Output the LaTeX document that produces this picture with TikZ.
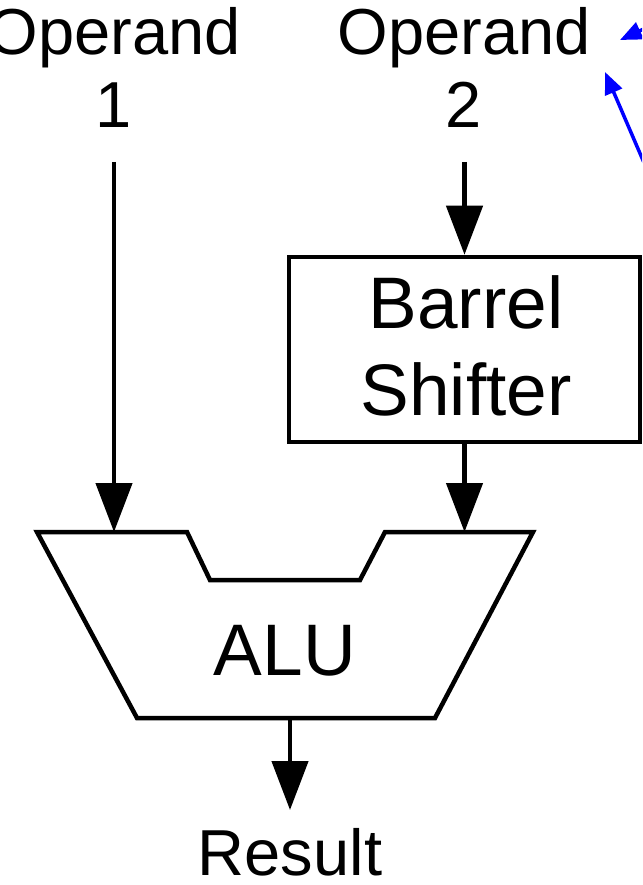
\documentclass[tikz,border=0pt]{standalone}
\usepackage{fontspec}
\setmainfont{Liberation Sans}
\usetikzlibrary{arrows.meta}
\tikzset{
  wire/.style={line width=4.5pt, draw=black},
  bigarrow/.style={wire, -{Triangle[length=49pt,width=36pt]}},
  bluearrow/.style={line width=3.5pt, draw=blue, -{Triangle[length=22pt,width=18pt]}},
  optext/.style={font=\fontsize{65}{73}\selectfont, inner sep=0pt, anchor=base},
  boxtext/.style={font=\fontsize{73}{80}\selectfont, inner sep=0pt, anchor=base},
  blockbox/.style={wire, rectangle, minimum width=351pt, minimum height=185pt, inner sep=0pt}
}
\begin{document}
\begin{tikzpicture}[x=1pt,y=-1pt]
\useasboundingbox (0,0) rectangle (642,885);
\clip (0,0) rectangle (642,885);
\fill[white] (0,0) rectangle (642,885);
% operand labels
\node[optext] (op1a) at (114,55) {Operand};
\node[optext] (op1b) at (114,128) {1};
\node[optext] (op2a) at (464,55) {Operand};
\node[optext] (op2b) at (464,128) {2};
% barrel shifter
\node[blockbox] (bs) at (464.5,349.5) {};
\node[boxtext] (bst1) at (466,328) {Barrel};
\node[boxtext] (bst2) at (466,415) {Shifter};
% ALU shape
\coordinate (a1) at (37,532);
\coordinate (a2) at (187,532);
\coordinate (a3) at (210,580);
\coordinate (a4) at (360,580);
\coordinate (a5) at (385,532);
\coordinate (a6) at (533,532);
\coordinate (a7) at (435,718);
\coordinate (a8) at (137,718);
\draw[wire, line join=miter] (a1) -- (a2) -- (a3) -- (a4) -- (a5) -- (a6) -- (a7) -- (a8) -- cycle;
\node[boxtext] (alu) at (285,675) {ALU};
\coordinate (in1) at (114,532);
\coordinate (in2) at (464.5,532);
\coordinate (out) at (290,718);
% inputs
\coordinate (s1) at (114,162);
\coordinate (s2) at (464.5,162);
\draw[bigarrow] (s1) -- (in1);
\draw[bigarrow] (s2) -- (bs.north);
\draw[bigarrow] (bs.south) -- (in2);
% result
\node[optext] (res) at (290,875) {Result};
\coordinate (rtip) at (290,810);
\draw[bigarrow] (out) -- (rtip);
% blue pointers
\coordinate (b1s) at (648,27);
\coordinate (b1e) at (620,40);
\coordinate (b2s) at (648,172);
\coordinate (b2e) at (605,72);
\draw[bluearrow] (b1s) -- (b1e);
\draw[bluearrow] (b2s) -- (b2e);
\end{tikzpicture}
\end{document}
